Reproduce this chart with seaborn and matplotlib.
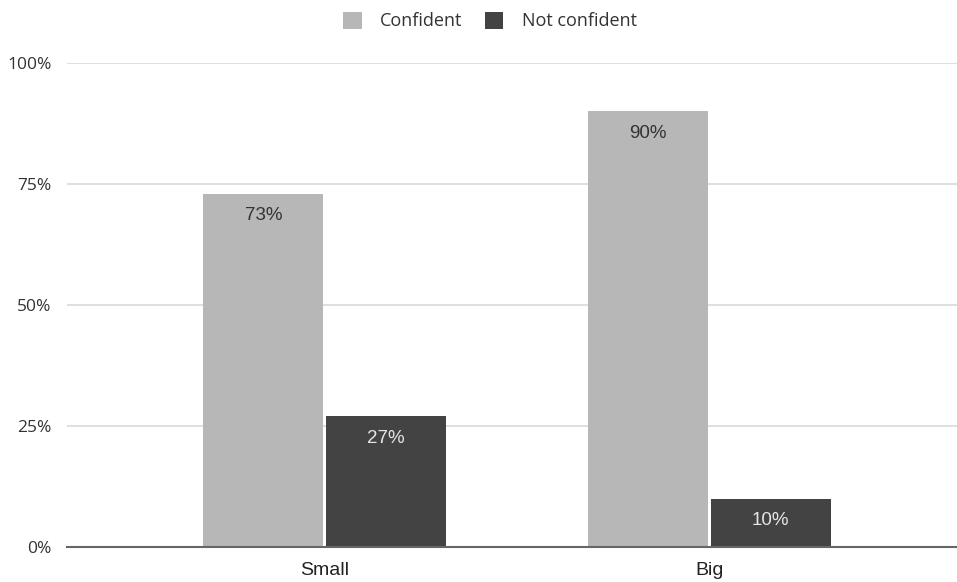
import matplotlib
matplotlib.use("Agg")
import matplotlib.pyplot as plt
import seaborn as sns
import pandas as pd

# Survey results: share of respondents per company size
sizes = ["Small", "Big"]
confident = [73, 90]
not_confident = [27, 10]
series_names = ["Confident", "Not confident"]
y_ticks = [0, 25, 50, 75, 100]
y_tick_labels = ["0%", "25%", "50%", "75%", "100%"]

colors = {"Confident": "#b7b7b7", "Not confident": "#434343"}
label_colors = {"Confident": "#333333", "Not confident": "#e6e6e6"}

df = pd.DataFrame({
    "size": sizes * 2,
    "group": [series_names[0]] * len(sizes) + [series_names[1]] * len(sizes),
    "value": confident + not_confident,
})

sns.set_theme(style="white")
fig = plt.figure(figsize=(9.57, 5.82), dpi=100)
ax = fig.add_axes([67 / 957, 1 - 547 / 582, 1 - 67 / 957, (547 - 63) / 582])

sns.barplot(data=df, x="size", y="value", hue="group", order=sizes,
            hue_order=series_names, palette=colors, width=0.636, gap=0.02,
            saturation=1, linewidth=0, ax=ax, legend=False)

ax.set_ylim(0, 100)
ax.set_xlim(-0.669, 1.643)
ax.set_yticks(y_ticks)
ax.set_yticklabels(y_tick_labels, fontfamily="Open Sans", fontsize=12.5, color="#333333")
ax.tick_params(axis="y", length=0, pad=11)
ax.tick_params(axis="x", length=0, pad=11)
for t in ax.get_xticklabels():
    t.set_fontfamily("Liberation Sans")
    t.set_fontsize(14)
    t.set_color("#222222")
ax.set_xlabel("")
ax.set_ylabel("")
ax.yaxis.grid(True, color="#d9d9d9", linewidth=1.2)
ax.set_axisbelow(True)
for s in ["top", "right", "left"]:
    ax.spines[s].set_visible(False)
ax.spines["bottom"].set_color("#666666")
ax.spines["bottom"].set_linewidth(1.5)

# value labels just inside the top of each bar
for container, name in zip(ax.containers, series_names):
    labels = [f"{v:.0f}%" for v in container.datavalues]
    ax.bar_label(container, labels=labels, label_type="edge", padding=-22,
                 fontsize=13.5, fontfamily="Liberation Sans",
                 color=label_colors[name])

handles = [plt.Rectangle((0, 0), 1, 1, facecolor=colors[n], edgecolor="none")
           for n in series_names]
leg = fig.legend(handles, series_names, loc="center", ncol=2,
                 bbox_to_anchor=(0.512, 1 - 21 / 582), frameon=False,
                 handlelength=1.0, handleheight=1.1, handletextpad=1.0,
                 columnspacing=1.3, prop={"family": "Open Sans", "size": 13})
for t in leg.get_texts():
    t.set_color("#333333")

fig.savefig("out.png", dpi=100)
